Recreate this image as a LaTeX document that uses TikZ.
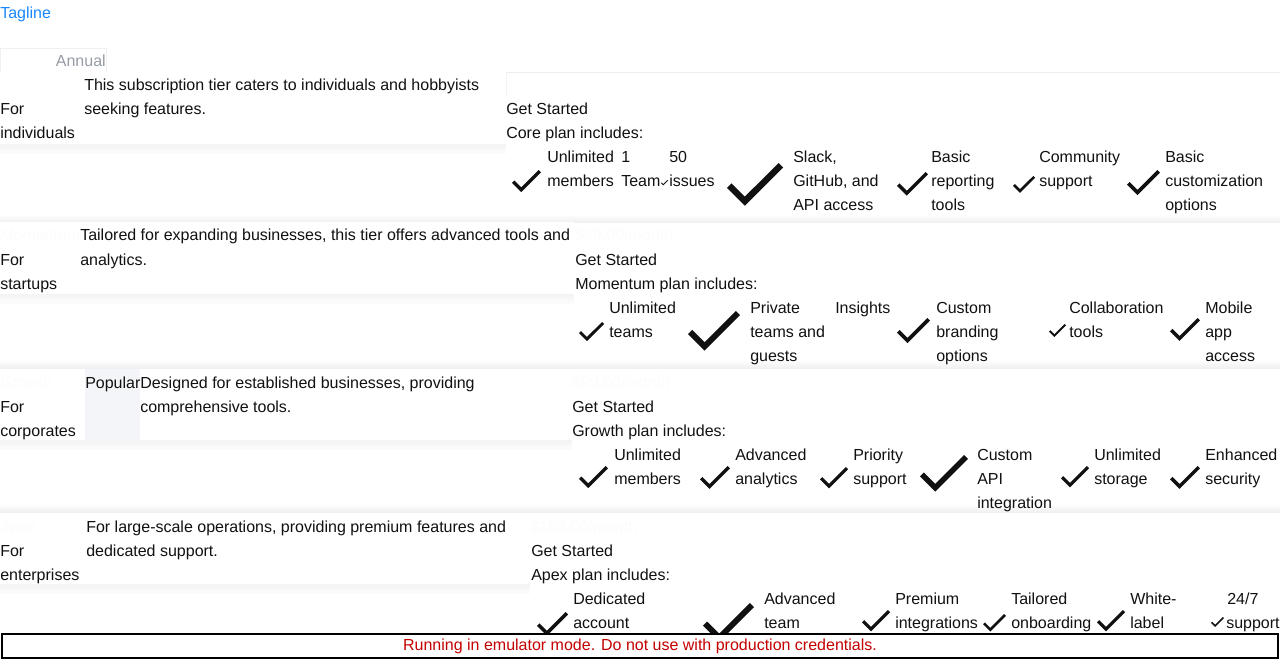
\documentclass[tikz,border=0pt]{standalone}
\usepackage{fontspec}
\setmainfont{Liberation Sans}
\definecolor{tag}{RGB}{24,136,255}
\definecolor{muted}{RGB}{150,156,166}
\definecolor{warn}{RGB}{196,0,0}
\definecolor{badge}{RGB}{244,245,248}
\definecolor{ghost}{RGB}{251,252,253}
\definecolor{ink}{RGB}{17,17,17}
\tikzset{
  txt/.style={anchor=base west, inner sep=0pt, yshift=-0.75pt, font=\fontsize{12}{14}\selectfont, text=ink},
  ghosttxt/.style={txt, text=ghost},
  tagtxt/.style={txt, text=tag},
  mutedtxt/.style={txt, text=muted},
  bandshade/.style={top color=white, bottom color=black!6},
}
\newcommand\chk[3]{\fill[ink, shift={(#1,#2)}, scale=#3/17.59] (5.59,10.58) -- (1.42,6.41) -- (0,7.82) -- (5.59,13.41) -- (17.59,1.41) -- (16.18,0) -- cycle;}
\newcommand\innershadow[3]{%
  \fill[black, opacity=0.045] (0,#3) rectangle (#2,#3+3);
  \fill[black, opacity=0.03] (0,#3+3) rectangle (#2,#3+6);
  \fill[black, opacity=0.015] (0,#3+6) rectangle (#2,#3+10);
}
\begin{document}
\begin{tikzpicture}[x=0.75pt, y=-0.75pt]
\useasboundingbox (0,0) rectangle (1280,659);
\fill[white] (0,0) rectangle (1280,659);

% header
\node[tagtxt] (tagline) at (0,18) {Tagline};
\fill[black, opacity=0.035] (0,72) rectangle (106,75);
\draw[black!6, fill=white] (0,48) rectangle (106,72);
\node[mutedtxt, anchor=base east] (annual) at (106,66) {Annual};
\draw[black!7] (0,72) -- (1280,72);

% card separators (outer card shadows)
\shade[bandshade] (0,214) rectangle (1280,222);
\draw[black!6] (0,222) -- (1280,222);
\shade[bandshade] (0,360) rectangle (1280,368);
\draw[black!6] (0,368) -- (1280,368);
\shade[bandshade] (0,504) rectangle (1280,512);
\draw[black!6] (0,512) -- (1280,512);

% inner boxes
\innershadow{0}{506}{144}
\fill[white] (0,72.5) rectangle (506,144);
\draw[black!5] (506,72.5) -- (506,96);
\innershadow{0}{574}{294}
\fill[white] (0,222.5) rectangle (574,294);
\innershadow{0}{572}{440}
\fill[white] (0,368.5) rectangle (572,440);
\innershadow{0}{530}{584}
\fill[white] (0,512.5) rectangle (530,584);

% ---------- Card 1 ----------
\node[txt] (c1a) at (0,114) {For};
\node[txt] (c1b) at (0,138) {individuals};
\node[txt] (c1d1) at (84,90) {This subscription tier caters to individuals and hobbyists};
\node[txt] (c1d2) at (84,114) {seeking features.};
\node[txt] (c1gs) at (506,114) {Get Started};
\node[txt] (c1inc) at (506,138) {Core plan includes:};
\chk{512}{170}{29}
\node[txt] (c1f1a) at (547,162) {Unlimited};
\node[txt] (c1f1b) at (547,186) {members};
\node[txt] (c1f2a) at (621,162) {1};
\node[txt] (c1f2b) at (621,186) {Team};
\chk{661}{180}{7}
\node[txt] (c1f3a) at (669,162) {50};
\node[txt] (c1f3b) at (669,186) {issues};
\chk{727}{163}{56}
\node[txt] (c1f4a) at (793,162) {Slack,};
\node[txt] (c1f4b) at (793,186) {GitHub, and};
\node[txt] (c1f4c) at (793,210) {API access};
\chk{897}{172}{31}
\node[txt] (c1f5a) at (931,162) {Basic};
\node[txt] (c1f5b) at (931,186) {reporting};
\node[txt] (c1f5c) at (931,210) {tools};
\chk{1013}{176}{22}
\node[txt] (c1f6a) at (1039,162) {Community};
\node[txt] (c1f6b) at (1039,186) {support};
\chk{1127}{170}{33}
\node[txt] (c1f7a) at (1165,162) {Basic};
\node[txt] (c1f7b) at (1165,186) {customization};
\node[txt] (c1f7c) at (1165,210) {options};

% ---------- Card 2 ----------
\node[ghosttxt] (c2name) at (0,240) {Momentum};
\node[txt] (c2d1) at (80,240) {Tailored for expanding businesses, this tier offers advanced tools and};
\node[txt] (c2d2) at (80,264) {analytics.};
\node[ghosttxt] (c2price) at (575,240) {\$49.00/month};
\node[txt] (c2a) at (0,264) {For};
\node[txt] (c2b) at (0,288) {startups};
\node[txt] (c2gs) at (575,264) {Get Started};
\node[txt] (c2inc) at (575,288) {Momentum plan includes:};
\chk{579}{322}{25}
\node[txt] (c2f1a) at (609,312) {Unlimited};
\node[txt] (c2f1b) at (609,336) {teams};
\chk{688}{311}{52}
\node[txt] (c2f2a) at (750,312) {Private};
\node[txt] (c2f2b) at (750,336) {teams and};
\node[txt] (c2f2c) at (750,360) {guests};
\node[txt] (c2f3a) at (835,312) {Insights};
\chk{897}{318}{33}
\node[txt] (c2f4a) at (936,312) {Custom};
\node[txt] (c2f4b) at (936,336) {branding};
\node[txt] (c2f4c) at (936,360) {options};
\chk{1049}{324}{17}
\node[txt] (c2f5a) at (1069,312) {Collaboration};
\node[txt] (c2f5b) at (1069,336) {tools};
\chk{1170}{318}{30}
\node[txt] (c2f6a) at (1205,312) {Mobile};
\node[txt] (c2f6b) at (1205,336) {app};
\node[txt] (c2f6c) at (1205,360) {access};

% ---------- Card 3 ----------
\fill[badge] (85,369) rectangle (140,440);
\node[ghosttxt] (c3name) at (0,386) {Growth};
\node[txt] (c3pop) at (85,387) {Popular};
\node[txt] (c3d1) at (140,387) {Designed for established businesses, providing};
\node[txt] (c3d2) at (140,411) {comprehensive tools.};
\node[ghosttxt] (c3price) at (572,386) {\$99.00/month};
\node[txt] (c3a) at (0,411) {For};
\node[txt] (c3b) at (0,435) {corporates};
\node[txt] (c3gs) at (572,411) {Get Started};
\node[txt] (c3inc) at (572,435) {Growth plan includes:};
\chk{579}{466}{29}
\node[txt] (c3f1a) at (614,459) {Unlimited};
\node[txt] (c3f1b) at (614,483) {members};
\chk{700}{466}{30}
\node[txt] (c3f2a) at (735,459) {Advanced};
\node[txt] (c3f2b) at (735,483) {analytics};
\chk{820}{467}{28}
\node[txt] (c3f3a) at (853,459) {Priority};
\node[txt] (c3f3b) at (853,483) {support};
\chk{920}{455}{48}
\node[txt] (c3f4a) at (977,459) {Custom};
\node[txt] (c3f4b) at (977,483) {API};
\node[txt] (c3f4c) at (977,507) {integration};
\chk{1061}{466}{28}
\node[txt] (c3f5a) at (1094,459) {Unlimited};
\node[txt] (c3f5b) at (1094,483) {storage};
\chk{1170}{466}{30}
\node[txt] (c3f6a) at (1205,459) {Enhanced};
\node[txt] (c3f6b) at (1205,483) {security};

% ---------- Card 4 ----------
\node[ghosttxt] (c4name) at (0,531) {Apex};
\node[txt] (c4d1) at (86,531) {For large-scale operations, providing premium features and};
\node[txt] (c4d2) at (86,555) {dedicated support.};
\node[ghosttxt] (c4price) at (530,531) {\$199.00/month};
\node[txt] (c4a) at (0,555) {For};
\node[txt] (c4b) at (0,579) {enterprises};
\node[txt] (c4gs) at (531,555) {Get Started};
\node[txt] (c4inc) at (531,579) {Apex plan includes:};
\chk{537}{612}{31}
\node[txt] (c4f1a) at (573,603) {Dedicated};
\node[txt] (c4f1b) at (573,627) {account};
\chk{703}{603}{51}
\node[txt] (c4f2a) at (764,603) {Advanced};
\node[txt] (c4f2b) at (764,627) {team};
\chk{862}{610}{28}
\node[txt] (c4f3a) at (895,603) {Premium};
\node[txt] (c4f3b) at (895,627) {integrations};
\chk{983}{614}{23}
\node[txt] (c4f4a) at (1011,603) {Tailored};
\node[txt] (c4f4b) at (1011,627) {onboarding};
\chk{1097}{610}{28}
\node[txt] (c4f5a) at (1130,603) {White-};
\node[txt] (c4f5b) at (1130,627) {label};
\chk{1211}{617}{13}
\node[txt] (c4f6a) at (1227,603) {24/7};
\node[txt] (c4f6b) at (1226,627) {support};

% ---------- banner ----------
\node[draw=black, fill=white, line width=1.5pt, minimum width=957pt, minimum height=18.5pt, inner sep=0pt, text=warn, font=\fontsize{12}{14}\selectfont] (banner) at (640,646) {\raisebox{0.75pt}{Running in emulator mode. Do not use with production credentials.}};
\end{tikzpicture}
\end{document}
